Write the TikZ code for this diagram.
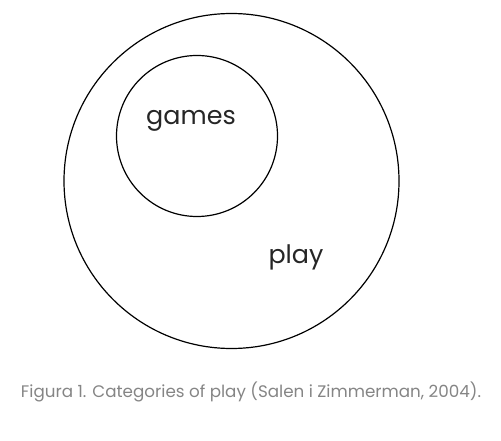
\documentclass[tikz,border=0pt]{standalone}
\usepackage{fontspec}
\setmainfont{Poppins}
\usetikzlibrary{positioning}
\definecolor{captiongray}{HTML}{858585}

\begin{document}
\begin{tikzpicture}[x=1bp, y=-1bp]
        % ================= Styles =================
        \tikzset{
            ring/.style={circle, draw=black, line width=1.2bp, inner sep=0pt},
            label/.style={font=\fontsize{25.5}{30}\selectfont, text=black!85, inner sep=0pt},
            caption/.style={font=\fontsize{16.8}{20}\selectfont, text=captiongray, inner sep=0pt}
        }

        % canvas
        \useasboundingbox (0,0) rectangle (501,441);

        % 1. outer set: play
        \node[ring, minimum size=335bp] (play) at (231.5,181) {};

        % 2. inner set: games
        \node[ring, minimum size=161bp] (games) at (197,136) {};

        % 3. labels
        \node[label, anchor=base] (gameslbl) at (191,125) {games};
        \node[label, anchor=base] (playlbl) at (296,263) {play};

        % 4. caption
        \node[caption] (cap) at (251,392) {Figura 1. Categories of play (Salen i Zimmerman, 2004).};

    \end{tikzpicture}
\end{document}
